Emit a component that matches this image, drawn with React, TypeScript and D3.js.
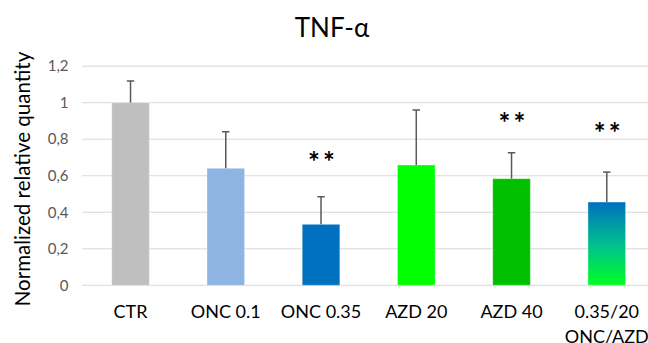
import React from "react";
import * as d3 from "d3";

const categories = ["CTR", "ONC 0.1", "ONC 0.35", "AZD 20", "AZD 40", "0.35/20\nONC/AZD"];
const means = [1.0, 0.641, 0.334, 0.659, 0.584, 0.456];
const errUpper = [0.119, 0.2, 0.151, 0.301, 0.142, 0.164];
const barFills = ["#bfbfbf", "#8eb4e3", "#0070c0", "#00ff00", "#00c000", "url(#comboGrad)"];
const yTicks = [0, 0.2, 0.4, 0.6, 0.8, 1.0, 1.2];
// significance markers: category index and the height (in data units) of the label
const sigIndex = [2, 4, 5];
const sigLevel = [0.703, 0.919, 0.864];
const sigText = ["**", "**", "**"];

const W = 648;
const H = 343;
const FONT = "Lato, 'Open Sans', sans-serif";

export default function App() {
  const x = d3
    .scaleBand<string>()
    .domain(categories)
    .range([82.9, 654.4])
    .paddingInner(0.605)
    .paddingOuter(0.3025);
  const y = d3.scaleLinear().domain([0, 1.2]).range([285.3, 66.2]);
  const bw = x.bandwidth();
  const fmt = (v: number) => (v === 0 ? "0" : d3.format("~g")(+v.toFixed(1))).replace(".", ",");

  return (
    <div style={{ position: "fixed", left: 0, top: 0 }}>
      <svg width={W} height={H} style={{ display: "block", background: "#fff" }}>
        <defs>
          <linearGradient id="comboGrad" x1="0" y1="0" x2="0" y2="1">
            <stop offset="0" stopColor="#0070c0" />
            <stop offset="0.55" stopColor="#00c68a" />
            <stop offset="1" stopColor="#00ff22" />
          </linearGradient>
        </defs>
        <text x={332} y={37} textAnchor="middle" fontFamily={FONT} fontSize={26} fill="#000">
          TNF-α
        </text>
        <text
          transform={`translate(30,179) rotate(-90)`}
          textAnchor="middle"
          fontFamily={FONT}
          fontSize={20.5}
          fill="#000"
        >
          Normalized relative quantity
        </text>
        {yTicks.map((t) => (
          <g key={t}>
            <line x1={82} x2={W} y1={y(t)} y2={y(t)} stroke="#d9d9d9" strokeWidth={1} />
            <text
              x={68.5}
              y={y(t)}
              dy="0.35em"
              textAnchor="end"
              fontFamily={FONT}
              fontSize={15}
              fill="#595959"
            >
              {fmt(t)}
            </text>
          </g>
        ))}
        {categories.map((c, i) => {
          const bx = x(c)!;
          const cx = bx + bw / 2;
          const top = y(means[i]);
          const eTop = y(means[i] + errUpper[i]);
          const lines = c.split("\n");
          return (
            <g key={c}>
              <rect
                x={bx}
                y={top}
                width={bw}
                height={y(0) - top}
                fill={barFills[i]}
                stroke="#ffffff"
                strokeOpacity={0.35}
                strokeWidth={1}
              />
              <line x1={cx} x2={cx} y1={top} y2={eTop} stroke="#595959" strokeWidth={1.5} />
              <line x1={cx - 3.7} x2={cx + 3.7} y1={eTop} y2={eTop} stroke="#595959" strokeWidth={1.5} />
              {lines.map((ln, k) => (
                <text
                  key={k}
                  x={cx}
                  y={317.5 + k * 25.5}
                  textAnchor="middle"
                  fontFamily={FONT}
                  fontSize={18}
                  fill="#000"
                >
                  {ln}
                </text>
              ))}
            </g>
          );
        })}
        {sigIndex.map((ci, k) => {
          const cx = x(categories[ci])! + bw / 2;
          return (
            <text
              key={k}
              x={cx + 2}
              y={y(sigLevel[k]) + 15}
              textAnchor="middle"
              fontFamily={FONT}
              fontSize={28}
              fontWeight={700}
              letterSpacing={3}
              fill="#000"
            >
              {sigText[k]}
            </text>
          );
        })}
      </svg>
    </div>
  );
}
